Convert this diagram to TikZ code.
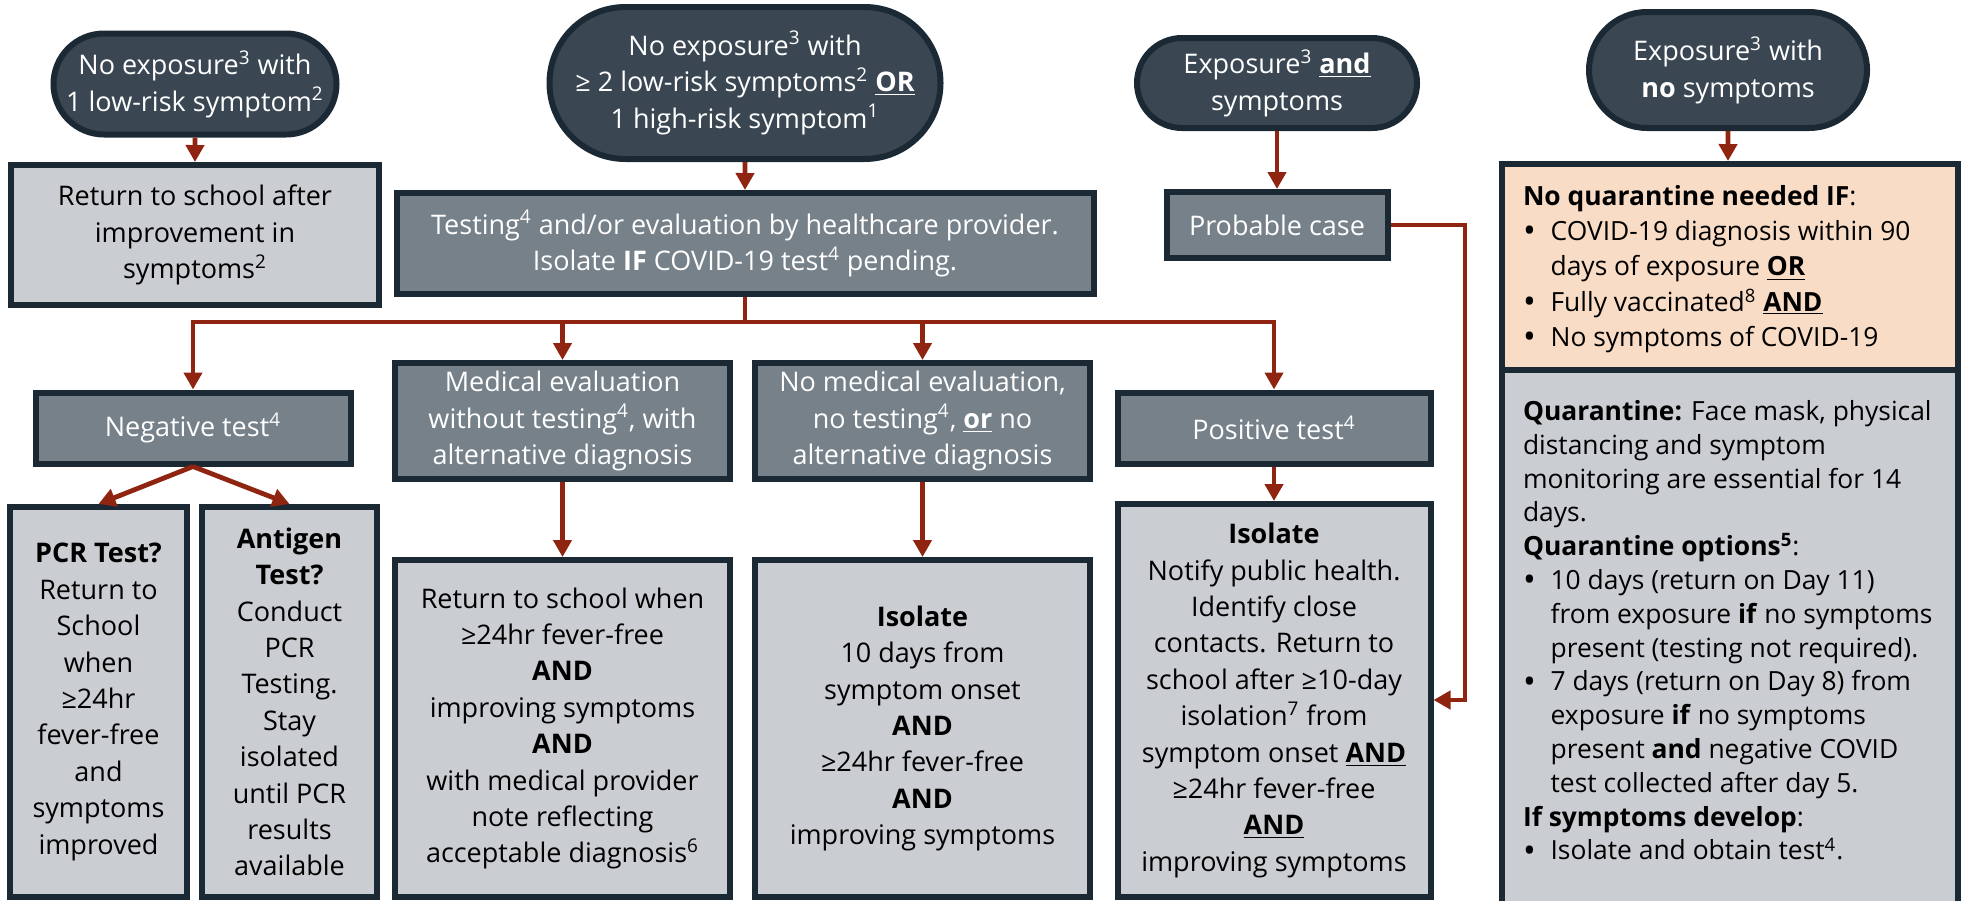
\documentclass[tikz,border=0pt]{standalone}
\usepackage{fontspec}
\setmainfont{Open Sans}
\usetikzlibrary{shapes.misc,arrows.meta,positioning}

\definecolor{edgenavy}{HTML}{1B2935}
\definecolor{stadfill}{HTML}{3A4752}
\definecolor{midfill}{HTML}{76818A}
\definecolor{lightfill}{HTML}{CACDD1}
\definecolor{peachfill}{HTML}{F8DCC5}
\definecolor{arrowred}{HTML}{8F2410}

\newcommand{\fnum}[1]{\textsuperscript{#1}}
\newcommand{\ulb}[1]{\underline{\textbf{#1}}}
\newcommand{\bul}{\makebox[13.8pt][l]{\raisebox{-1.1pt}{\fontsize{17}{17}\selectfont\textbullet}}}
\newcommand{\bulgap}{\makebox[13.8pt]{}}

\begin{document}
\begin{tikzpicture}[x=0.5pt,y=-0.5pt,
  box/.style={draw=edgenavy,line width=3pt,align=center,inner sep=0pt,font=\fontsize{13.5}{18.2}\selectfont},
  startbox/.style={box,rounded rectangle,fill=stadfill,text=white},
  midbox/.style={box,rectangle,fill=midfill,text=white},
  endbox/.style={box,rectangle,fill=lightfill,text=black},
  listtext/.style={align=left,inner sep=0pt,text=black},
  flow/.style={draw=arrowred,line width=2.4pt,-{Triangle[length=8.5pt,width=9pt]}},
  flowline/.style={draw=arrowred,line width=2.4pt}]
\path[use as bounding box,fill=white] (0,0) rectangle (1962,900);

% entry points
\node[startbox,minimum width=138.5pt,minimum height=50.5pt] (lowone) at (195,84) {No exposure\fnum{3} with\\1 low-risk symptom\fnum{2}};
\node[startbox,minimum width=195.5pt,minimum height=76pt] (highrisk) at (745,83) {No exposure\fnum{3} with\\≥ 2 low-risk symptoms\fnum{2} \ulb{OR}\\1 high-risk symptom\fnum{1}};
\node[startbox,minimum width=140pt,minimum height=45pt] (exposym) at (1277,83) {Exposure\fnum{3} \ulb{and}\\symptoms};
\node[startbox,minimum width=139pt,minimum height=58pt] (exponone) at (1728,70) {Exposure\fnum{3} with\\\textbf{no} symptoms};

\node[endbox,minimum width=184pt,minimum height=70pt] (backafter) at (195,235) {Return to school after\\improvement in\\symptoms\fnum{2}};
\node[midbox,minimum width=348.5pt,minimum height=50.5pt] (testing) at (745,243.5) {Testing\fnum{4} and/or evaluation by healthcare provider.\\Isolate \textbf{IF} COVID-19 test\fnum{4} pending.};
\node[midbox,minimum width=110.5pt,minimum height=33pt] (probable) at (1277,225) {Probable case};

% quarantine column
\node[endbox,minimum width=228pt,minimum height=280pt] (quarantine) at (1730,650) {};
\node[box,rectangle,fill=peachfill,minimum width=228pt,minimum height=103pt] (noquar) at (1730,267) {};
\node[listtext,font=\fontsize{13.2}{17.6}\selectfont,below right=12pt and 11.8pt of noquar.north west] (noquarlist) {\textbf{No quarantine needed IF}:\\
\bul COVID-19 diagnosis within 90\\
\bulgap days of exposure \ulb{OR}\\
\bul Fully vaccinated\fnum{8} \ulb{AND}\\
\bul No symptoms of COVID-19};
\node[listtext,font=\fontsize{13.2}{16.9}\selectfont,below right=16.5pt and 11.8pt of quarantine.north west] (quarlist) {\textbf{Quarantine:} Face mask, physical\\
distancing and symptom\\
monitoring are essential for 14\\
days.\\
\textbf{Quarantine options\fnum{5}}:\\
\bul 10 days (return on Day 11)\\
\bulgap from exposure \textbf{if} no symptoms\\
\bulgap present (testing not required).\\
\bul 7 days (return on Day 8) from\\
\bulgap exposure \textbf{if} no symptoms\\
\bulgap present \textbf{and} negative COVID\\
\bulgap test collected after day 5.\\
\textbf{If symptoms develop}:\\
\bul Isolate and obtain test\fnum{4}.};

% results
\node[midbox,minimum width=157.5pt,minimum height=35.5pt] (negative) at (193,428) {Negative test\fnum{4}};
\node[midbox,minimum width=167.5pt,minimum height=58pt] (medeval) at (562.5,421) {Medical evaluation\\without testing\fnum{4}, with\\alternative diagnosis};
\node[midbox,minimum width=167.5pt,minimum height=58pt] (nomedeval) at (922.5,421) {No medical evaluation,\\no testing\fnum{4}, \ulb{or} no\\alternative diagnosis};
\node[midbox,minimum width=156.5pt,minimum height=35.5pt] (positive) at (1274,428) {Positive test\fnum{4}};

% outcomes
\node[endbox,minimum width=88.5pt,minimum height=195pt] (pcr) at (98.5,702) {\textbf{PCR Test?}\\Return to\\School\\when\\≥24hr\\fever-free\\and\\symptoms\\improved};
\node[endbox,minimum width=87.5pt,minimum height=195pt] (antigen) at (289.5,702) {\textbf{Antigen}\\\textbf{Test?}\\Conduct\\PCR\\Testing.\\Stay\\isolated\\until PCR\\results\\available};
\node[endbox,minimum width=167.5pt,minimum height=168.5pt] (altdiag) at (562.5,728.5) {Return to school when\\≥24hr fever-free\\\textbf{AND}\\improving symptoms\\\textbf{AND}\\with medical provider\\note reflecting\\acceptable diagnosis\fnum{6}};
\node[endbox,minimum width=167.5pt,minimum height=168.5pt] (isolate) at (922.5,728.5) {\textbf{Isolate}\\10 days from\\symptom onset\\\textbf{AND}\\≥24hr fever-free\\\textbf{AND}\\improving symptoms};
\node[endbox,minimum width=156.5pt,minimum height=196.5pt] (isonotify) at (1274,700.5) {\textbf{Isolate}\\Notify public health.\\Identify close\\contacts. Return to\\school after ≥10-day\\isolation\fnum{7} from\\symptom onset \ulb{AND}\\≥24hr fever-free\\\ulb{AND}\\improving symptoms};

% connectors
\coordinate (split) at (testing.south |- 0,322);
\coordinate (detour) at (1465,700);
\path[flow] (lowone) -- (backafter);
\path[flow] (highrisk) -- (testing);
\path[flowline] (testing) -- (split);
\path[flow] (split) -| (negative);
\path[flow] (split) -| (medeval);
\path[flow] (split) -| (nomedeval);
\path[flow] (split) -| (positive);
\path[flow] (negative.south) -- (pcr.north);
\path[flow] (negative.south) -- (antigen.north);
\path[flow] (medeval) -- (altdiag);
\path[flow] (nomedeval) -- (isolate);
\path[flow] (positive) -- (isonotify);
\path[flow] (exposym) -- (probable);
\path[flow] (probable.east) -| (detour) -- (isonotify.east |- detour);
\path[flow] (exponone) -- (exponone |- noquar.north);
\end{tikzpicture}
\end{document}
